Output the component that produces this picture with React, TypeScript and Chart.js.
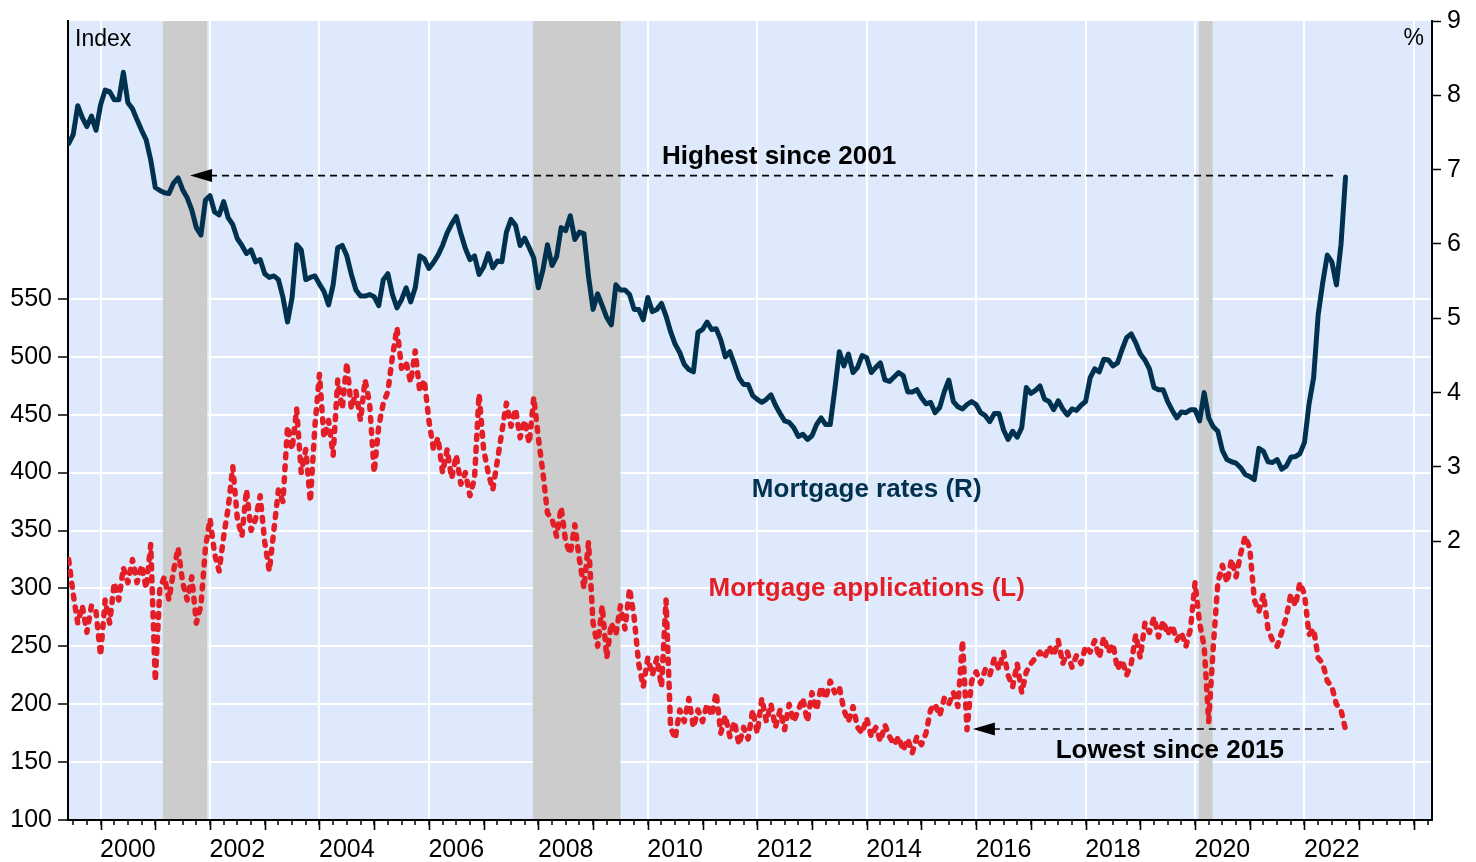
import React, { useEffect, useRef } from 'react';
import { Chart, registerables } from 'chart.js';

Chart.register(...registerables);

// ---------- data ----------
const START_YEAR = 1999 + 5 / 12; // first monthly observation (June 1999)
const MONTH = 1 / 12;

// 30-year mortgage rate, %, monthly (right axis)
const RATES = [
  7.35, 7.47, 7.86, 7.70, 7.58, 7.72, 7.53, 7.87, 8.07, 8.05,
  7.94, 7.94, 8.31, 7.90, 7.82, 7.67, 7.53, 7.40, 7.13, 6.76,
  6.72, 6.69, 6.68, 6.82, 6.89, 6.73, 6.62, 6.46, 6.22, 6.12,
  6.59, 6.65, 6.43, 6.39, 6.57, 6.35, 6.26, 6.07, 5.98, 5.87,
  5.92, 5.76, 5.79, 5.60, 5.55, 5.57, 5.52, 5.28, 4.95, 5.28,
  5.99, 5.92, 5.52, 5.55, 5.57, 5.46, 5.36, 5.18, 5.45, 5.95,
  5.98, 5.84, 5.59, 5.38, 5.30, 5.30, 5.32, 5.29, 5.17, 5.52,
  5.60, 5.32, 5.14, 5.25, 5.41, 5.22, 5.41, 5.84, 5.80, 5.67,
  5.75, 5.85, 5.98, 6.15, 6.27, 6.37, 6.14, 5.94, 5.79, 5.84,
  5.59, 5.69, 5.87, 5.68, 5.77, 5.76, 6.16, 6.33, 6.25, 5.98,
  6.08, 5.95, 5.81, 5.41, 5.65, 5.99, 5.71, 5.83, 6.22, 6.18,
  6.38, 6.06, 6.16, 6.14, 5.56, 5.12, 5.33, 5.17, 5.01, 4.91,
  5.45, 5.38, 5.38, 5.32, 5.12, 5.12, 4.98, 5.28, 5.09, 5.12,
  5.20, 5.03, 4.82, 4.65, 4.54, 4.38, 4.31, 4.28, 4.81, 4.85,
  4.95, 4.85, 4.86, 4.71, 4.48, 4.55, 4.38, 4.20, 4.11, 4.11,
  3.96, 3.91, 3.87, 3.91, 3.97, 3.83, 3.72, 3.62, 3.60, 3.53,
  3.41, 3.44, 3.37, 3.42, 3.57, 3.66, 3.57, 3.57, 4.04, 4.55,
  4.36, 4.52, 4.27, 4.34, 4.50, 4.47, 4.27, 4.34, 4.40, 4.17,
  4.15, 4.21, 4.27, 4.23, 4.01, 4.01, 4.04, 3.93, 3.85, 3.87,
  3.73, 3.80, 4.01, 4.17, 3.88, 3.81, 3.78, 3.84, 3.88, 3.84,
  3.73, 3.69, 3.61, 3.72, 3.72, 3.50, 3.37, 3.48, 3.40, 3.53,
  4.07, 3.99, 4.03, 4.09, 3.91, 3.88, 3.77, 3.89, 3.78, 3.70,
  3.78, 3.76, 3.83, 3.88, 4.20, 4.32, 4.28, 4.45, 4.44, 4.36,
  4.40, 4.58, 4.74, 4.79, 4.67, 4.52, 4.44, 4.32, 4.07, 4.04,
  4.04, 3.88, 3.76, 3.66, 3.74, 3.73, 3.77, 3.77, 3.62, 4.00,
  3.66, 3.54, 3.48, 3.22, 3.10, 3.07, 3.05, 2.99, 2.90, 2.87,
  2.83, 3.25, 3.21, 3.07, 3.06, 3.10, 2.97, 3.01, 3.13, 3.14,
  3.18, 3.33, 3.85, 4.20, 5.05, 5.48, 5.85, 5.76, 5.45, 5.99, 6.90,
];

// Mortgage applications index, monthly (left axis)
const APPS = [
  325, 295, 270, 285, 262, 285, 280, 242, 290, 270,
  305, 290, 318, 305, 325, 305, 320, 300, 338, 220,
  300, 310, 290, 315, 335, 305, 290, 310, 270, 285,
  335, 360, 330, 315, 345, 370, 405, 360, 345, 385,
  350, 360, 380, 340, 315, 350, 385, 375, 440, 420,
  455, 400, 420, 375, 440, 485, 430, 445, 415, 480,
  455, 495, 455, 470, 445, 480, 460, 400, 440, 460,
  470, 500, 525, 490, 495, 478, 505, 470, 480, 445,
  420, 430, 400, 420, 395, 415, 390, 400, 380, 395,
  468, 420, 400, 385, 410, 435, 460, 440, 455, 430,
  445, 425, 465, 430, 400, 365, 360, 345, 370, 340,
  330, 355, 325, 300, 340, 270, 250, 285, 240, 270,
  260, 285, 265, 300, 275, 235, 215, 240, 225, 240,
  215, 290, 180, 170, 195, 185, 205, 180, 195, 185,
  200, 190, 210, 175, 190, 172, 185, 165, 180, 170,
  195, 175, 205, 185, 200, 180, 195, 178, 200, 185,
  195, 205, 185, 210, 195, 215, 205, 220, 210, 215,
  195, 185, 198, 180, 175, 188, 172, 180, 168, 182,
  172, 165, 172, 160, 170, 158, 172, 165, 175, 195,
  200, 190, 205, 200, 210, 198, 255, 178, 220, 228,
  218, 230, 225, 240, 230, 245, 225, 215, 235, 210,
  228, 235, 240, 245, 240, 250, 242, 255, 235, 245,
  232, 242, 235, 250, 245, 255, 240, 258, 245, 252,
  230, 238, 225, 235, 260, 240, 270, 262, 275, 258,
  272, 260, 268, 255, 262, 250, 265, 305, 270, 250,
  185, 250, 305, 320, 305, 325, 310, 330, 345, 335,
  290, 280, 295, 265, 255, 250, 262, 275, 295, 285,
  305, 295, 260, 265, 240, 235, 220, 215, 200, 195, 178,
];

const LEFT_TICKS = [100, 150, 200, 250, 300, 350, 400, 450, 500, 550];
const RIGHT_TICKS = [2, 3, 4, 5, 6, 7, 8, 9];
const LEFT_RANGE = [100, 790];
const RIGHT_RANGE = [-1.75, 9];
const X_RANGE = [1999.405, 2024.33];

// US recessions (start, end) in decimal years
const RECESSIONS = [
  [2001.14, 2001.95],
  [2007.9, 2009.5],
  [2020.07, 2020.32],
];

const HIGH_MARK = { fromYear: 2001.635, toYear: 2022.54, value: 6.92, label: 'Highest since 2001', labelYear: 2012.4 };
const LOW_MARK = { fromYear: 2015.94, toYear: 2022.54, value: 178.6, label: 'Lowest since 2015', labelYear: 2019.54 };
const RATE_LABEL = { text: 'Mortgage rates (R)', year: 2014.0, value: 2.6 };
const APPS_LABEL = { text: 'Mortgage applications (L)', year: 2014.0, value: 293.4 };

// ---------- styles ----------
const FONT = '"Liberation Sans", Arial, Helvetica, sans-serif';
const NAVY = '#003250';
const RED = '#E31E26';
const BG = '#DEEAFB';
const GREY = '#CCCCCC';

function drawArrow(ctx: CanvasRenderingContext2D, tipX: number, endX: number, y: number) {
  ctx.save();
  ctx.strokeStyle = '#000';
  ctx.fillStyle = '#000';
  ctx.lineWidth = 1.6;
  ctx.setLineDash([7, 5]);
  ctx.beginPath();
  ctx.moveTo(tipX + 20, y);
  ctx.lineTo(endX, y);
  ctx.stroke();
  ctx.setLineDash([]);
  ctx.beginPath();
  ctx.moveTo(tipX, y);
  ctx.lineTo(tipX + 22, y - 6.5);
  ctx.lineTo(tipX + 22, y + 6.5);
  ctx.closePath();
  ctx.fill();
  ctx.restore();
}

const decorPlugin = {
  id: 'decor',
  beforeDraw(chart: any) {
    const { ctx, chartArea: a } = chart;
    ctx.save();
    ctx.fillStyle = BG;
    ctx.fillRect(a.left, a.top, a.right - a.left, a.bottom - a.top);
    ctx.restore();
  },
  beforeDatasetsDraw(chart: any) {
    const { ctx, chartArea: a } = chart;
    const x = chart.scales.x;
    ctx.save();
    ctx.fillStyle = GREY;
    RECESSIONS.forEach(([s, e]) => {
      const x1 = x.getPixelForValue(s);
      const x2 = x.getPixelForValue(e);
      ctx.fillRect(x1, a.top, x2 - x1, a.bottom - a.top - 1);
    });
    ctx.restore();
  },
  afterDatasetsDraw(chart: any) {
    const { ctx, chartArea: a } = chart;
    const x = chart.scales.x;
    const yL = chart.scales.yL;
    const yR = chart.scales.yR;

    const hy = yR.getPixelForValue(HIGH_MARK.value);
    drawArrow(ctx, x.getPixelForValue(HIGH_MARK.fromYear), x.getPixelForValue(HIGH_MARK.toYear), hy);
    const ly = yL.getPixelForValue(LOW_MARK.value);
    drawArrow(ctx, x.getPixelForValue(LOW_MARK.fromYear), x.getPixelForValue(LOW_MARK.toYear), ly);

    ctx.save();
    ctx.textBaseline = 'alphabetic';
    ctx.textAlign = 'center';
    ctx.font = `bold 26px ${FONT}`;
    ctx.fillStyle = '#000';
    ctx.fillText(HIGH_MARK.label, x.getPixelForValue(HIGH_MARK.labelYear), hy - 12);
    ctx.fillText(LOW_MARK.label, x.getPixelForValue(LOW_MARK.labelYear), ly + 29);

    ctx.fillStyle = NAVY;
    ctx.fillText(RATE_LABEL.text, x.getPixelForValue(RATE_LABEL.year), yR.getPixelForValue(RATE_LABEL.value));
    ctx.fillStyle = RED;
    ctx.fillText(APPS_LABEL.text, x.getPixelForValue(APPS_LABEL.year), yL.getPixelForValue(APPS_LABEL.value));

    ctx.font = `23px ${FONT}`;
    ctx.fillStyle = '#000';
    ctx.textAlign = 'left';
    ctx.fillText('Index', a.left + 7, a.top + 25);
    ctx.textAlign = 'right';
    ctx.fillText('%', a.right - 8, a.top + 24);
    ctx.restore();
  },
  afterDraw(chart: any) {
    const { ctx, chartArea: a } = chart;
    const x = chart.scales.x;
    ctx.save();
    ctx.strokeStyle = '#000';
    ctx.lineWidth = 1.6;
    for (let yr = Math.ceil(X_RANGE[0]); yr <= Math.floor(X_RANGE[1]); yr++) {
      const px = Math.round(x.getPixelForValue(yr)) + 0.5;
      ctx.beginPath();
      ctx.moveTo(px, a.bottom);
      ctx.lineTo(px, a.bottom + 10);
      ctx.stroke();
    }
    ctx.restore();
  },
};

export default function App() {
  const canvasRef = useRef<HTMLCanvasElement | null>(null);

  useEffect(() => {
    const canvas = canvasRef.current;
    if (!canvas) return;
    const tickFont = { family: FONT, size: 25 };

    const chart = new Chart(canvas, {
      type: 'line',
      data: {
        datasets: [
          {
            label: 'Mortgage rates (R)',
            data: RATES.map((v, i) => ({ x: START_YEAR + i * MONTH, y: v })),
            xAxisID: 'x',
            yAxisID: 'yR',
            borderColor: NAVY,
            borderWidth: 5,
            borderJoinStyle: 'round',
            borderCapStyle: 'round',
            pointRadius: 0,
            tension: 0,
          },
          {
            label: 'Mortgage applications (L)',
            data: APPS.map((v, i) => ({ x: START_YEAR + i * MONTH, y: v })),
            xAxisID: 'x',
            yAxisID: 'yL',
            borderColor: RED,
            borderWidth: 5.5,
            borderDash: [4, 8],
            borderCapStyle: 'round',
            borderJoinStyle: 'round',
            pointRadius: 0,
            tension: 0,
          },
        ],
      },
      options: {
        responsive: false,
        animation: false,
        devicePixelRatio: 1,
        layout: { padding: { top: 20, left: 0, right: 0, bottom: 0 } },
        plugins: { legend: { display: false }, tooltip: { enabled: false } },
        scales: {
          x: {
            type: 'linear',
            position: 'bottom',
            min: X_RANGE[0],
            max: X_RANGE[1],
            afterBuildTicks: (s: any) => {
              const t: any[] = [];
              for (let q = Math.ceil(X_RANGE[0] * 4); q <= Math.floor(X_RANGE[1] * 4); q++) t.push({ value: q / 4 });
              s.ticks = t;
            },
            afterFit: (s: any) => { s.height = 42; },
            ticks: {
              autoSkip: false,
              maxRotation: 0,
              minRotation: 0,
              padding: 10,
              font: tickFont,
              color: '#000',
              callback: (v: any) => {
                const n = Number(v);
                const yr = Math.floor(n + 1e-9);
                return Math.abs(n - yr - 0.5) < 1e-6 && yr % 2 === 0 ? String(yr) : '';
              },
            },
            grid: {
              color: (c: any) => {
                const v = c.tick ? c.tick.value : NaN;
                const r = Math.round(v);
                return Math.abs(v - r) < 1e-6 && r % 2 === 0 ? '#FFFFFF' : 'rgba(0,0,0,0)';
              },
              lineWidth: 2,
              tickColor: '#000',
              tickLength: 5,
              tickWidth: 1.5,
            },
            border: { color: '#000', width: 2 },
          },
          yL: {
            type: 'linear',
            position: 'left',
            min: LEFT_RANGE[0],
            max: LEFT_RANGE[1],
            afterBuildTicks: (s: any) => { s.ticks = LEFT_TICKS.map((v) => ({ value: v })); },
            afterFit: (s: any) => { s.width = 68; },
            ticks: { font: tickFont, color: '#000', padding: 6, autoSkip: false },
            grid: { color: '#FFFFFF', lineWidth: 2, tickColor: '#000', tickLength: 10, tickWidth: 1.5 },
            border: { color: '#000', width: 2 },
          },
          yR: {
            type: 'linear',
            position: 'right',
            min: RIGHT_RANGE[0],
            max: RIGHT_RANGE[1],
            afterBuildTicks: (s: any) => { s.ticks = RIGHT_TICKS.map((v) => ({ value: v })); },
            afterFit: (s: any) => { s.width = 44; },
            ticks: { font: tickFont, color: '#000', padding: 6, autoSkip: false },
            grid: { drawOnChartArea: false, tickColor: '#000', tickLength: 9, tickWidth: 1.5 },
            border: { color: '#000', width: 2 },
          },
        },
      },
      plugins: [decorPlugin],
    } as any);

    return () => chart.destroy();
  }, []);

  return (
    <div style={{ position: 'absolute', left: 0, top: 0, width: 1476, height: 862, background: '#fff' }}>
      <canvas ref={canvasRef} width={1476} height={862} style={{ display: 'block' }} />
    </div>
  );
}
